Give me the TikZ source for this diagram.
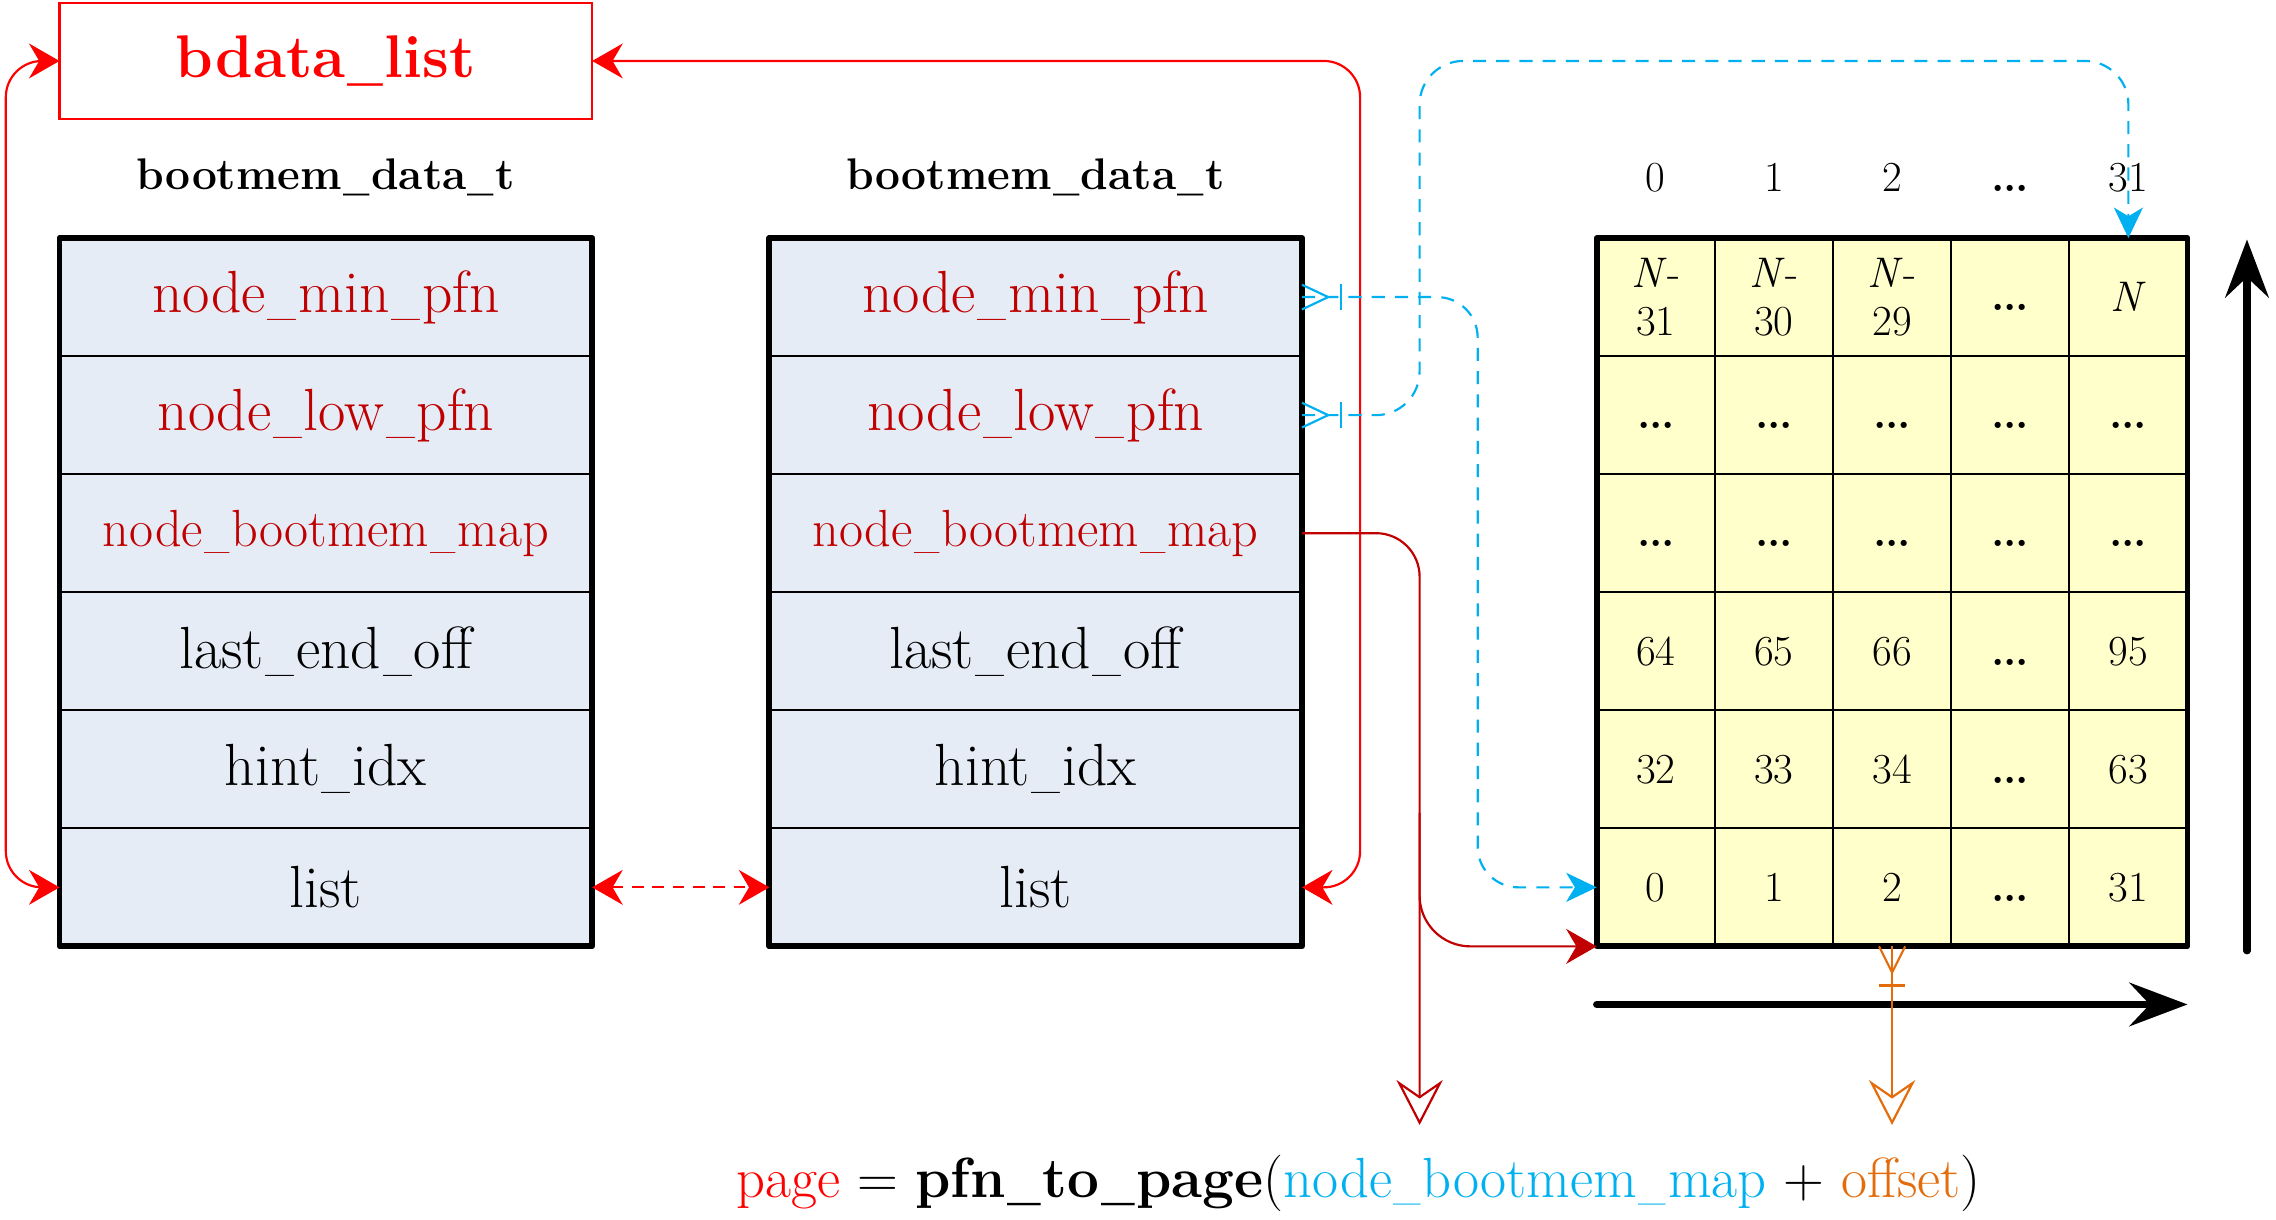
\documentclass[tikz,border=0pt]{standalone}
\usepackage{fontspec}
\usepackage{graphicx}
\usetikzlibrary{arrows.meta}
\definecolor{bred}{HTML}{FF0000}
\definecolor{dred}{HTML}{C00000}
\definecolor{sky}{HTML}{00B0F0}
\definecolor{orng}{HTML}{E46C0A}
\definecolor{sfill}{HTML}{E6ECF6}
\definecolor{gfill}{HTML}{FFFFCC}
\newcommand\fsz[2]{\fontsize{#1}{#2}\selectfont}
\newcommand\us{\kern0.03em\scalebox{0.7}[1]{\_}\kern0.03em}
\newcommand\dd{{\vphantom{0}\bfseries .\kern-1pt.\kern-1pt.}}
\newcommand\gridrow[6]{%
  \pgfmathsetmacro\yy{164+81.33*(#1-0.5)}%
  \node[gcell] (G#1c1) at (1140.7,\yy) {#2};
  \node[gcell] (G#1c2) at (1222.1,\yy) {#3};
  \node[gcell] (G#1c3) at (1303.5,\yy) {#4};
  \node[gcell] (G#1c4) at (1384.9,\yy) {#5};
  \node[gcell] (G#1c5) at (1466.3,\yy) {#6};
}
\newcommand\structrow[4]{%
  \pgfmathsetmacro\yy{164+81.33*(#2-0.5)}%
  \node[scell,#4] (#1#2) at (\xx,\yy) {#3};
}
\newcommand\crowright[2]{%
  \draw[conn,#2,line join=miter] ([yshift=8.5pt]#1) -- ([xshift=18pt]#1) -- ([yshift=-8.5pt]#1);
  \draw[conn,#2] ([xshift=27pt,yshift=9pt]#1) -- ([xshift=27pt,yshift=-9pt]#1);
}
\newcommand\crowdown[2]{%
  \draw[conn,#2,line join=miter] ([xshift=-9pt]#1) -- ([yshift=-18pt]#1) -- ([xshift=9pt]#1);
  \draw[conn,#2] ([xshift=-9pt,yshift=-27pt]#1) -- ([xshift=9pt,yshift=-27pt]#1);
}
\begin{document}
\begin{tikzpicture}[x=1pt,y=-1pt,
  scell/.style={draw=black,line width=1.5pt,fill=sfill,minimum width=367pt,minimum height=81.33pt,inner sep=0pt,outer sep=0pt},
  gcell/.style={draw=black,line width=1.5pt,fill=gfill,minimum width=81.4pt,minimum height=81.33pt,inner sep=0pt,outer sep=0pt,align=center,font=\fsz{29.5}{33}},
  fld/.style={text=dred,font=\fsz{41}{47}},
  fldsm/.style={text=dred,font=\fsz{36}{42}},
  fldk/.style={text=black,font=\fsz{41}{47}},
  hdr/.style={font=\fsz{30.5}{36}\bfseries},
  collab/.style={font=\fsz{29.5}{33},anchor=base},
  conn/.style={line width=1.5pt},
  rtip/.tip={Stealth[length=21pt,width=24pt,inset=7pt]},
  btip/.tip={Stealth[length=21pt,width=20pt,inset=6pt]},
  otip/.tip={Stealth[open,length=31pt,width=32pt,inset=11pt]},
  bigtip/.tip={Stealth[length=40pt,width=30pt,inset=14pt]}
]
\useasboundingbox (0,0) rectangle (1568,840);

% bdata_list box
\node[draw=bred,line width=1.5pt,minimum width=367pt,minimum height=80pt,inner sep=0pt,outer sep=0pt,
      text=bred,font=\fsz{41.5}{48}\bfseries] (bd) at (224.5,42) {bdata\us list};

% headers
\node[hdr] (h1) at (224.5,122) {bootmem\us data\us t};
\node[hdr] (h2) at (713.5,122) {bootmem\us data\us t};

% left struct
\def\xx{224.5}
\structrow{L}{1}{node\us min\us pfn}{fld}
\structrow{L}{2}{node\us low\us pfn}{fld}
\structrow{L}{3}{node\us bootmem\us map}{fldsm}
\structrow{L}{4}{last\us end\us off}{fldk}
\structrow{L}{5}{hint\us idx}{fldk}
\structrow{L}{6}{list}{fldk}
\draw[line width=4pt,line join=round] (L1.north west) rectangle (L6.south east);

% right struct
\def\xx{713.5}
\structrow{R}{1}{node\us min\us pfn}{fld}
\structrow{R}{2}{node\us low\us pfn}{fld}
\structrow{R}{3}{node\us bootmem\us map}{fldsm}
\structrow{R}{4}{last\us end\us off}{fldk}
\structrow{R}{5}{hint\us idx}{fldk}
\structrow{R}{6}{list}{fldk}
\draw[line width=4pt,line join=round] (R1.north west) rectangle (R6.south east);

% grid
\gridrow{1}{\textit{N}-\\31}{\textit{N}-\\30}{\textit{N}-\\29}{\dd}{\textit{N}}
\gridrow{2}{\dd}{\dd}{\dd}{\dd}{\dd}
\gridrow{3}{\dd}{\dd}{\dd}{\dd}{\dd}
\gridrow{4}{64}{65}{66}{\dd}{95}
\gridrow{5}{32}{33}{34}{\dd}{63}
\gridrow{6}{0}{1}{2}{\dd}{31}
\draw[line width=4pt,line join=round] (G1c1.north west) rectangle (G6c5.south east);

% column labels
\node[collab] (c0) at (1140.7,132) {0};
\node[collab] (c1) at (1222.1,132) {1};
\node[collab] (c2) at (1303.5,132) {2};
\node[collab] (c3) at (1384.9,132) {\dd};
\node[collab] (c4) at (1466.3,132) {31};

% axes arrows
\coordinate (vaS) at (1548,655);
\coordinate (vaE) at (1548,165);
\coordinate (haS) at (1100,692);
\coordinate (haE) at (1507,692);
\draw[line width=5pt,line cap=round,-bigtip] (vaS) -- (vaE);
\draw[line width=5pt,line cap=round,-bigtip] (haS) -- (haE);

% red list loops
\draw[conn,bred,rounded corners=25pt,rtip-rtip] (L6.west) -- ++(-37,0) |- (bd.west);
\draw[conn,bred,rounded corners=25pt,rtip-rtip] (R6.east) -- ++(40,0) |- (bd.east);
\draw[conn,bred,dash pattern=on 8pt off 6pt,rtip-rtip] (L6.east) -- (R6.west);

% blue dashed
\draw[conn,sky,dash pattern=on 9pt off 7pt,rounded corners=28pt,-btip] (R1.east) -- ++(121,0) |- (G6c1.west);
\draw[conn,sky,dash pattern=on 9pt off 7pt,rounded corners=30pt,-btip] (R2.east) -| (978,42) -| (G1c5.north);
\crowright{R1.east}{sky}
\crowright{R2.east}{sky}

% dark red to map
\coordinate (pend) at (978,775);
\coordinate (brk) at (978,560);
\draw[conn,dred,rounded corners=30pt,-otip] (R3.east) -| (pend);
\draw[conn,dred,rounded corners=35pt,-rtip] (brk) |- (G6c1.south west);

% orange offset
\coordinate (oend) at (1303.5,775);
\draw[conn,orng,-otip] (G6c3.south) -- (oend);
\crowdown{G6c3.south}{orng}

% formula
\node[font=\fsz{39}{46}] (f) at (936,815) {\textcolor{bred}{page} = \textbf{pfn\us to\us page}(\textcolor{sky}{node\us bootmem\us map} + \textcolor{orng}{offset})};
\end{tikzpicture}
\end{document}
